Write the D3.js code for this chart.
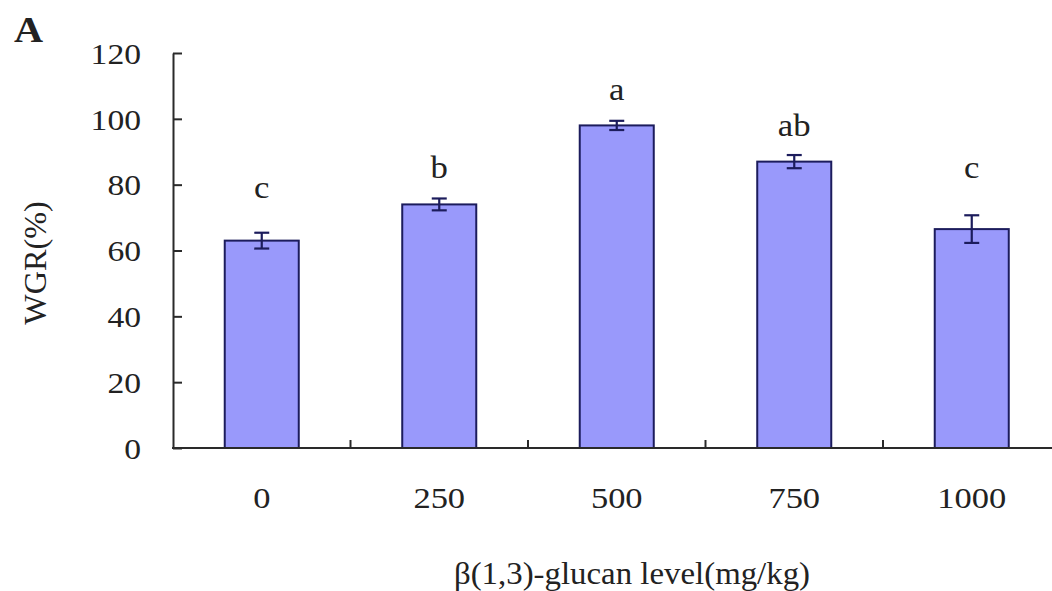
<!DOCTYPE html>
<html><head><meta charset="utf-8">
<script src="https://cdn.jsdelivr.net/npm/d3@7"></script>
<style>
html,body{margin:0;padding:0;background:#fff;}
svg{display:block;}
text{font-family:"Liberation Serif","Times New Roman",serif;fill:#222;}
</style></head>
<body><svg id="c" width="1052" height="591"></svg>
<script>
const categories = ["0","250","500","750","1000"];
const values = [63, 74, 98, 87, 66.5];
const errors = [2.4, 1.8, 1.4, 2.0, 4.2];
const letters = ["c","b","a","ab","c"];
// height (in WGR % units) at which each significance letter sits
const letterLevels = [76, 82, 105.7, 94.8, 82];
const yTicks = [0,20,40,60,80,100,120];

const svg = d3.select("#c");
const x0 = 173, x1 = 1060.5, yTop = 53, yBot = 448;
const x = d3.scaleBand().domain(categories).range([x0, x1]).paddingInner(0.583).paddingOuter(0.2915);
const y = d3.scaleLinear().domain([0,120]).range([yBot, yTop]);
const step = x.step();
const axisColor = "#2a2a2a";
const SX = 1.12;

// bars
svg.selectAll("rect.bar").data(values).enter().append("rect")
  .attr("class","bar")
  .attr("x",(d,i)=>x(categories[i]))
  .attr("y",d=>y(d))
  .attr("width",x.bandwidth())
  .attr("height",d=>y(0)-y(d))
  .attr("fill","#9999fb")
  .attr("stroke","#1c1c5c")
  .attr("stroke-width",2);

// error bars
const capW = 15;
const eg = svg.append("g").attr("stroke","#1c1c5c").attr("stroke-width",2.2);
values.forEach((v,i)=>{
  const cx = x(categories[i]) + x.bandwidth()/2;
  eg.append("line").attr("x1",cx).attr("x2",cx).attr("y1",y(v+errors[i])).attr("y2",y(v-errors[i]));
  eg.append("line").attr("x1",cx-capW/2).attr("x2",cx+capW/2).attr("y1",y(v+errors[i])).attr("y2",y(v+errors[i]));
  eg.append("line").attr("x1",cx-capW/2).attr("x2",cx+capW/2).attr("y1",y(v-errors[i])).attr("y2",y(v-errors[i]));
});

// letters
svg.selectAll("text.sig").data(letters).enter().append("text")
  .attr("class","sig")
  .attr("transform",(d,i)=>`translate(${x(categories[i]) + x.bandwidth()/2},${y(letterLevels[i])}) scale(${SX},1)`)
  .attr("text-anchor","middle")
  .attr("font-size",31)
  .text(d=>d);

// y axis
const yAxis = d3.axisLeft(y).tickValues(yTicks).tickSizeInner(-9).tickSizeOuter(0);
const ya = svg.append("g").attr("transform",`translate(${x0},0)`).call(yAxis);
ya.select(".domain").attr("stroke",axisColor).attr("stroke-width",2);
ya.selectAll(".tick line").attr("stroke",axisColor).attr("stroke-width",2);
ya.selectAll(".tick text").attr("font-size",30).attr("fill","#222")
  .attr("font-family","Liberation Serif, serif").attr("dy","0.34em")
  .attr("x",0).attr("text-anchor","end")
  .attr("transform",`translate(-32,0) scale(${SX},1)`);

// x axis line
svg.append("line").attr("x1",x0-1).attr("x2",1052).attr("y1",yBot).attr("y2",yBot)
  .attr("stroke",axisColor).attr("stroke-width",2);
// x ticks at band boundaries
categories.forEach((c,i)=>{
  const bx = x0 + step*(i+1);
  svg.append("line").attr("x1",bx).attr("x2",bx).attr("y1",yBot).attr("y2",yBot-8)
    .attr("stroke",axisColor).attr("stroke-width",2);
});
// x tick labels
svg.selectAll("text.xl").data(categories).enter().append("text")
  .attr("class","xl")
  .attr("transform",d=>`translate(${x(d)+x.bandwidth()/2},508) scale(1.15,1)`)
  .attr("text-anchor","middle")
  .attr("font-size",30)
  .text(d=>d);

// axis titles
svg.append("text").attr("transform","translate(46,263) rotate(-90) scale(1.04,1.04)")
  .attr("text-anchor","middle").attr("font-size",31).text("WGR(%)");
svg.append("text").attr("transform","translate(632,584) scale(1.06,1)").attr("text-anchor","middle")
  .attr("font-size",31).text("β(1,3)-glucan level(mg/kg)");
svg.append("text").attr("transform","translate(14,42) scale(1.15,1)").attr("font-size",35).attr("font-weight","bold")
  .attr("fill","#111").text("A");
</script></body></html>
